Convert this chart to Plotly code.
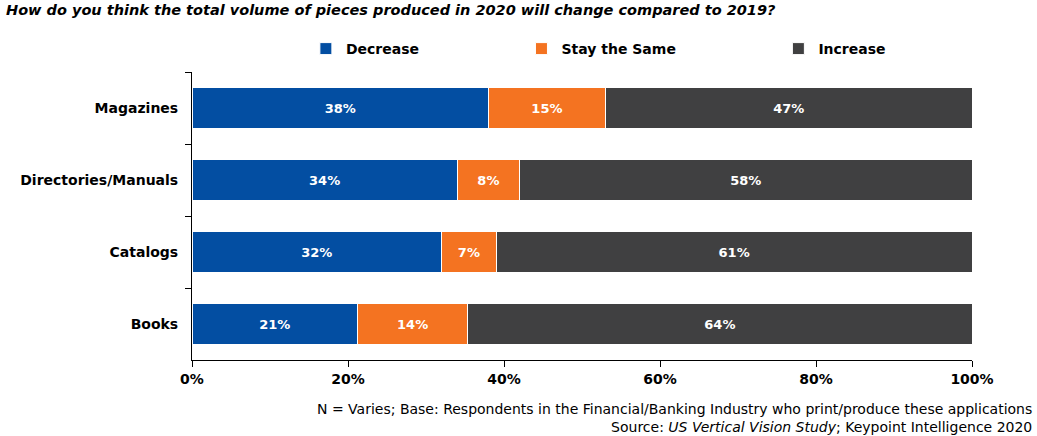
import plotly.graph_objects as go

categories = ["Magazines", "Directories/Manuals", "Catalogs", "Books"]
decrease = [38, 34, 32, 21]
stay_same = [15, 8, 7, 14]
increase = [47, 58, 61, 64]

series = [
    ("Decrease", decrease, "#034EA2"),
    ("Stay the Same", stay_same, "#F47321"),
    ("Increase", increase, "#404041"),
]

FONT = "DejaVu Sans"
PAD = "\u00a0" * 20  # spacing between legend entries

fig = go.Figure()
for name, vals, color in series:
    fig.add_trace(go.Bar(
        y=categories,
        x=vals,
        name=name + (PAD if name != "Increase" else ""),
        orientation="h",
        marker=dict(color=color, line=dict(color="white", width=1)),
        text=[f"{v}%" for v in vals],
        textposition="inside",
        insidetextanchor="middle",
        textangle=0,
        textfont=dict(family=FONT, size=13, color="white", weight="bold"),
        hoverinfo="skip",
    ))

fig.update_layout(
    barmode="stack",
    barnorm="percent",
    bargap=0.43,
    width=1037,
    height=436,
    margin=dict(l=192, r=65, t=72, b=76, autoexpand=False),
    paper_bgcolor="white",
    plot_bgcolor="white",
    font=dict(family=FONT, color="black"),
    uniformtext=dict(mode=False),
    legend=dict(
        orientation="h",
        x=0.146, xanchor="left",
        y=1 - 49 / 436, yref="container", yanchor="middle",
        font=dict(family=FONT, size=14, weight="bold"),
        traceorder="normal",
    ),
    xaxis=dict(
        range=[0, 100],
        dtick=20,
        ticksuffix="%",
        showgrid=False,
        zeroline=False,
        showline=True,
        linecolor="black",
        linewidth=1,
        ticks="outside",
        ticklen=6,
        tickcolor="black",
        tickfont=dict(family=FONT, size=14, weight="bold"),
        fixedrange=True,
    ),
    yaxis=dict(
        autorange="reversed",
        showgrid=False,
        showline=True,
        linecolor="black",
        linewidth=1,
        ticks="outside",
        tickson="boundaries",
        ticklen=6,
        tickcolor="black",
        ticklabelstandoff=10,
        tickfont=dict(family=FONT, size=14, weight="bold"),
        fixedrange=True,
    ),
)

fig.add_annotation(
    text="<b><i>How do you think the total volume of pieces produced in 2020 will change compared to 2019?</i></b>",
    xref="paper", yref="paper", x=-188 / 780, y=1.0, yshift=62,
    xanchor="left", yanchor="middle", showarrow=False,
    font=dict(family=FONT, size=14.5, color="black"),
)
fig.add_annotation(
    text="N = Varies; Base: Respondents in the Financial/Banking Industry who print/produce these applications<br>"
         "Source: <i>US Vertical Vision Study</i>; Keypoint Intelligence 2020",
    xref="paper", yref="paper", x=1 + 62 / 780, y=0, yshift=-58,
    xanchor="right", yanchor="middle", align="right", showarrow=False,
    font=dict(family=FONT, size=14, color="black"),
)

fig.write_html("out.html")
